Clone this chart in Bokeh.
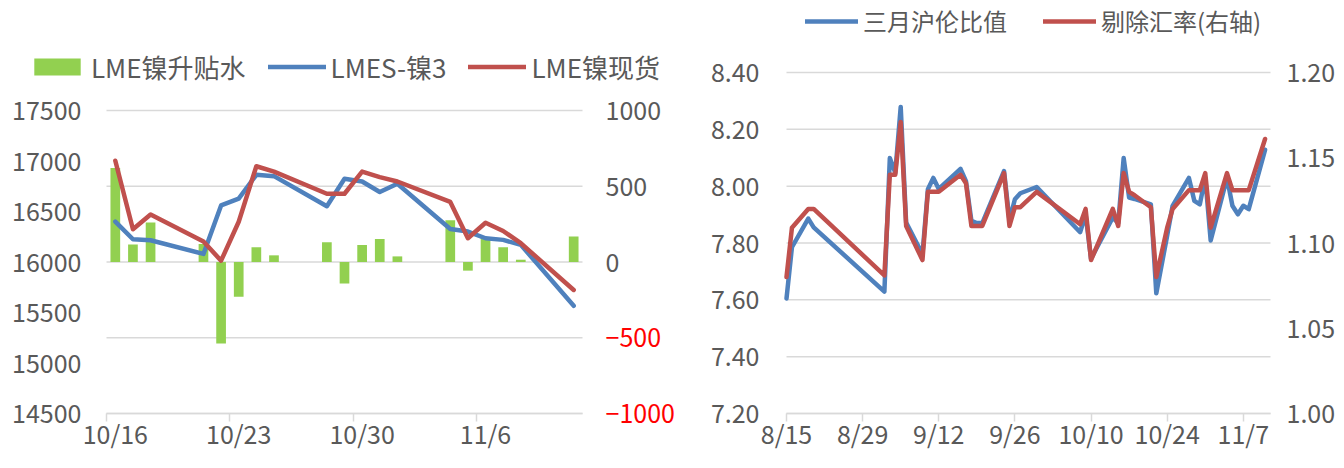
import pandas as pd
from bokeh.plotting import figure
from bokeh.models import (Range1d, LinearAxis, FixedTicker, Legend, LegendItem,
                          ColumnDataSource)
from bokeh.layouts import row
from bokeh.embed import file_html
from bokeh.resources import INLINE

# ---------------- left chart data ----------------
left_dates = ["2019-10-16", "2019-10-17", "2019-10-18", "2019-10-21", "2019-10-22",
              "2019-10-23", "2019-10-24", "2019-10-25", "2019-10-28", "2019-10-29",
              "2019-10-30", "2019-10-31", "2019-11-01", "2019-11-04", "2019-11-05",
              "2019-11-06", "2019-11-07", "2019-11-08", "2019-11-11"]
spread = [620, 115, 260, 118, -538, -229, 98, 44, 131, -142, 113, 152, 37,
          276, -57, 163, 98, 15, 168]
lmes3 = [16400, 16225, 16215, 16080, 16560, 16628, 16863, 16850, 16552, 16824,
         16797, 16693, 16775, 16327, 16301, 16235, 16219, 16170, 15566]
spot = [17003, 16324, 16471, 16203, 16013, 16399, 16948, 16895, 16676, 16676,
        16895, 16840, 16797, 16595, 16235, 16389, 16307, 16186, 15723]
left_tick_dates = ["2019-10-16", "2019-10-23", "2019-10-30", "2019-11-06"]
left_tick_labels = ["10/16", "10/23", "10/30", "11/6"]
left_y_ticks = [14500, 15000, 15500, 16000, 16500, 17000, 17500]
left_r_ticks = [-1000, -500, 0, 500, 1000]

# ---------------- right chart data ----------------
ratio_dates = ["2019-08-15", "2019-08-16", "2019-08-19", "2019-08-20", "2019-09-02",
               "2019-09-03", "2019-09-04", "2019-09-05", "2019-09-06", "2019-09-09",
               "2019-09-10", "2019-09-11", "2019-09-12", "2019-09-16", "2019-09-17",
               "2019-09-18", "2019-09-19", "2019-09-20", "2019-09-24", "2019-09-25",
               "2019-09-26", "2019-09-27", "2019-09-30", "2019-10-08", "2019-10-09",
               "2019-10-10", "2019-10-14", "2019-10-15", "2019-10-16", "2019-10-17",
               "2019-10-18", "2019-10-21", "2019-10-22", "2019-10-24", "2019-10-25",
               "2019-10-28", "2019-10-29", "2019-10-30", "2019-10-31", "2019-11-01",
               "2019-11-04", "2019-11-05", "2019-11-06", "2019-11-07", "2019-11-08",
               "2019-11-11"]
ratio = [7.605, 7.785, 7.886, 7.855, 7.629, 8.099, 8.047, 8.279, 7.872, 7.76,
         7.989, 8.029, 7.99, 8.061, 8.018, 7.878, 7.87, 7.87, 8.053, 7.88,
         7.954, 7.975, 7.997, 7.838, 7.90, 7.745, 7.89, 7.87, 8.099, 7.96,
         7.955, 7.936, 7.623, 7.826, 7.931, 8.029, 7.948, 7.936, 8.03, 7.809,
         8.029, 7.931, 7.901, 7.931, 7.919, 8.128]
ratio_ex = [1.080, 1.109, 1.120, 1.120, 1.081, 1.140, 1.140, 1.171, 1.110, 1.090,
            1.130, 1.130, 1.130, 1.140, 1.135, 1.110, 1.110, 1.110, 1.141, 1.110,
            1.121, 1.121, 1.130, 1.111, 1.120, 1.090, 1.120, 1.110, 1.141, 1.130,
            1.128, 1.121, 1.080, 1.109, 1.120, 1.131, 1.131, 1.131, 1.141, 1.109,
            1.141, 1.131, 1.131, 1.131, 1.131, 1.161]
right_tick_dates = ["2019-08-15", "2019-08-29", "2019-09-12", "2019-09-26",
                    "2019-10-10", "2019-10-24", "2019-11-07"]
right_tick_labels = ["8/15", "8/29", "9/12", "9/26", "10/10", "10/24", "11/7"]
right_y_ticks = [7.2, 7.4, 7.6, 7.8, 8.0, 8.2, 8.4]
right_r_ticks = [1.00, 1.05, 1.10, 1.15, 1.20]

# ---------------- styles / layout (pixels inside each figure) ----------------
FONT = "Noto Sans CJK SC"
AX_FS = "25px"
TXT = "#595959"
GRID = "#D9D9D9"
GREEN = "#92D050"
BLUE = "#4F81BD"
RED = "#C0504D"
LW = 4.5
H = 452
W1, W2 = 680, 656
# left chart plot box
L_X0, L_X1, L_Y0, L_Y1 = 106, 582, 110, 413
# right chart plot box
R_X0, R_X1, R_Y0, R_Y1 = 106, 590, 72, 413


def span(v0, p0, v1, p1, size):
    """range so that v0 sits at pixel p0 and v1 at pixel p1 in [0, size]."""
    k = (v1 - v0) / (p1 - p0)
    start = v0 - p0 * k
    return start, start + size * k


def day_offsets(dates, start):
    s = pd.Timestamp(start)
    return [(pd.Timestamp(d) - s).days for d in dates]


def style_axis(ax):
    ax.major_label_text_font = FONT
    ax.major_label_text_font_size = AX_FS
    ax.major_label_text_color = TXT
    ax.axis_line_color = None
    ax.major_tick_line_color = None
    ax.minor_tick_line_color = None
    ax.major_tick_out = 0
    ax.major_tick_in = 0


def make_fig(w, xr, yr):
    p = figure(width=w, height=H, output_backend="svg", toolbar_location=None,
               title=None, x_range=Range1d(*xr), y_range=Range1d(*yr),
               min_border=0, min_border_left=0, min_border_right=0,
               min_border_top=0, min_border_bottom=0, outline_line_color=None)
    p.xgrid.visible = False
    p.ygrid.visible = False
    return p


def make_legend(items, x, y, fs, spacing, gw, gh):
    return Legend(items=items, location=(x, y), orientation="horizontal",
                  glyph_width=gw, glyph_height=gh, label_height=16,
                  label_standoff=5, spacing=spacing, padding=0, margin=0,
                  border_line_color=None, background_fill_alpha=0,
                  label_text_font=FONT, label_text_font_size=fs,
                  label_text_color=TXT)


# ================= LEFT FIGURE =================
lx = day_offsets(left_dates, left_dates[0])
ltx = day_offsets(left_tick_dates, left_dates[0])
lx_lo, lx_hi = -0.5, lx[-1] + 0.5
src_l = ColumnDataSource(dict(x=lx, spread=spread, lmes3=lmes3, spot=spot))

p1 = make_fig(W1, span(lx_lo, L_X0, lx_hi, L_X1, W1),
              span(left_y_ticks[0], H - L_Y1, left_y_ticks[-1], H - L_Y0, H))
p1.extra_y_ranges = {"r": Range1d(*span(left_r_ticks[0], H - L_Y1,
                                        left_r_ticks[-1], H - L_Y0, H))}

grid_l = [16000 + 1.5 * v for v in left_r_ticks]
p1.segment(x0=[lx_lo] * len(grid_l), x1=[lx_hi] * len(grid_l), y0=grid_l, y1=grid_l,
           line_color=GRID, line_width=1.5)

bars = p1.vbar(x="x", top="spread", bottom=0, width=0.55, source=src_l,
               fill_color=GREEN, line_color=None, y_range_name="r")
bl = p1.line("x", "lmes3", source=src_l, line_color=BLUE, line_width=LW,
             line_join="round", line_cap="round")
rl = p1.line("x", "spot", source=src_l, line_color=RED, line_width=LW,
             line_join="round", line_cap="round")

yax = p1.yaxis[0]
style_axis(yax)
yax.ticker = FixedTicker(ticks=left_y_ticks)
yax.fixed_location = lx_lo
yax.major_label_standoff = 25

rax = LinearAxis(y_range_name="r", ticker=FixedTicker(ticks=[v for v in left_r_ticks if v >= 0]))
style_axis(rax)
rax.fixed_location = lx_hi
rax.major_label_standoff = 23
p1.add_layout(rax, "right")
rax_neg = LinearAxis(y_range_name="r", ticker=FixedTicker(ticks=[v for v in left_r_ticks if v < 0]))
style_axis(rax_neg)
rax_neg.fixed_location = lx_hi
rax_neg.major_label_text_color = "#FF0000"
rax_neg.major_label_standoff = 23
p1.add_layout(rax_neg, "right")

xax = p1.xaxis[0]
style_axis(xax)
xax.fixed_location = left_y_ticks[0]
xax.bounds = (lx_lo, lx_hi)
xax.ticker = FixedTicker(ticks=ltx, minor_ticks=[t - 0.5 for t in ltx])
xax.major_label_overrides = {t: l for t, l in zip(ltx, left_tick_labels)}
xax.axis_line_color = GRID
xax.axis_line_width = 1.5
xax.minor_tick_line_color = GRID
xax.minor_tick_line_width = 1.5
xax.minor_tick_out = 8
xax.minor_tick_in = 0
xax.major_tick_out = 8
xax.major_label_standoff = -7

leg1 = make_legend([LegendItem(label="LME镍升贴水", renderers=[bars]),
                    LegendItem(label="LMES-镍3", renderers=[bl]),
                    LegendItem(label="LME镍现货", renderers=[rl])],
                   28, 367, "26px", 22, 58, 21)
p1.add_layout(leg1)

# ================= RIGHT FIGURE =================
rx = day_offsets(ratio_dates, ratio_dates[0])
rtx = day_offsets(right_tick_dates, ratio_dates[0])
rx_lo, rx_hi = 0, 89
src_r = ColumnDataSource(dict(x=rx, ratio=ratio, ratio_ex=ratio_ex))

p2 = make_fig(W2, span(rx_lo, R_X0, rx_hi, R_X1, W2),
              span(right_y_ticks[0], H - R_Y1, right_y_ticks[-1], H - R_Y0, H))
p2.extra_y_ranges = {"r": Range1d(*span(right_r_ticks[0], H - R_Y1,
                                        right_r_ticks[-1], H - R_Y0, H))}

p2.segment(x0=[rx_lo] * len(right_y_ticks), x1=[rx_hi] * len(right_y_ticks),
           y0=right_y_ticks, y1=right_y_ticks, line_color=GRID, line_width=1.5)

b2 = p2.line("x", "ratio", source=src_r, line_color=BLUE, line_width=LW,
             line_join="round", line_cap="round")
r2 = p2.line("x", "ratio_ex", source=src_r, line_color=RED, line_width=LW,
             line_join="round", line_cap="round", y_range_name="r")

yax2 = p2.yaxis[0]
style_axis(yax2)
yax2.ticker = FixedTicker(ticks=right_y_ticks)
yax2.fixed_location = rx_lo
yax2.major_label_overrides = {v: f"{v:.2f}" for v in right_y_ticks}
yax2.major_label_standoff = 27

rax2 = LinearAxis(y_range_name="r", ticker=FixedTicker(ticks=right_r_ticks))
style_axis(rax2)
rax2.fixed_location = rx_hi
rax2.major_label_overrides = {v: f"{v:.2f}" for v in right_r_ticks}
rax2.major_label_standoff = 16
p2.add_layout(rax2, "right")

xax2 = p2.xaxis[0]
style_axis(xax2)
xax2.fixed_location = right_y_ticks[0]
xax2.bounds = (rx_lo, rx_hi)
xax2.ticker = FixedTicker(ticks=rtx)
xax2.major_label_overrides = {t: l for t, l in zip(rtx, right_tick_labels)}
xax2.axis_line_color = GRID
xax2.axis_line_width = 1.5
xax2.major_tick_line_color = GRID
xax2.major_tick_line_width = 1.5
xax2.major_tick_out = 8
xax2.major_label_standoff = -7

leg2 = make_legend([LegendItem(label="三月沪伦比值", renderers=[b2]),
                    LegendItem(label="剔除汇率(右轴)", renderers=[r2])],
                   125, 414, "24px", 36, 53, 16)
p2.add_layout(leg2)

layout = row(p1, p2)
open("out.html", "w").write(file_html(layout, INLINE))
